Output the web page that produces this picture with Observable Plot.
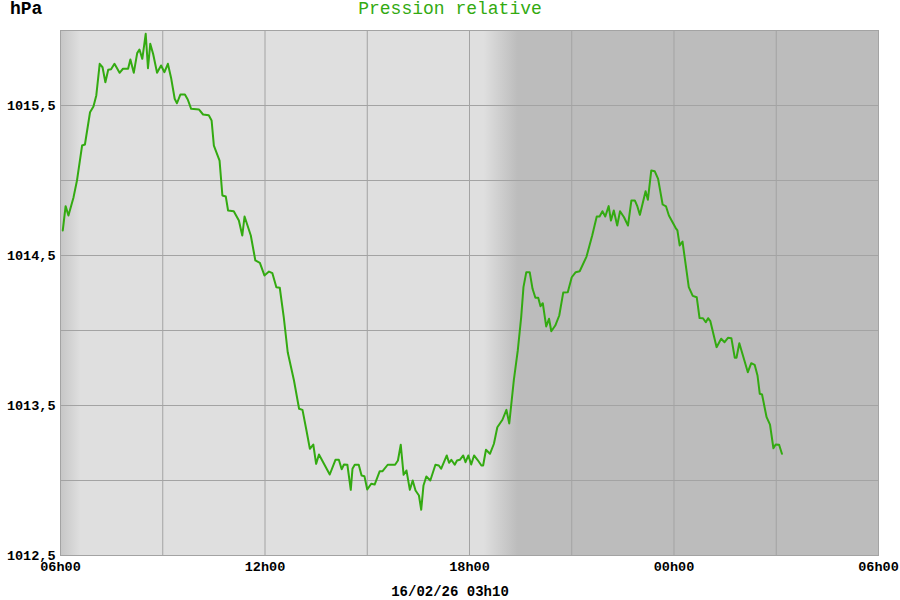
<!DOCTYPE html>
<html>
<head>
<meta charset="utf-8">
<script src="https://cdn.jsdelivr.net/npm/d3@7"></script>
<script src="https://cdn.jsdelivr.net/npm/@observablehq/plot@0.6"></script>
<style>
  body { margin: 0; background: #fff; }
  #wrap { position: relative; width: 900px; height: 600px; overflow: hidden; }
  .txt { position: absolute; font-family: "Liberation Mono", "Courier New", monospace; white-space: nowrap; }
  #unit { left: 10px; top: 0px; font-size: 18px; line-height: 18px; font-weight: bold; color: #000; }
  #title { left: 0; width: 900px; text-align: center; top: 0px; font-size: 18px; line-height: 18px; color: #33aa11; }
  #caption { left: 0; width: 900px; text-align: center; top: 585px; font-size: 14px; line-height: 14px; font-weight: bold; color: #000; }
  #chart { position: absolute; left: 0; top: 0; }
</style>
</head>
<body>
<div id="wrap">
  <div id="chart"></div>
  <div class="txt" id="unit">hPa</div>
  <div class="txt" id="title">Pression relative</div>
  <div class="txt" id="caption">16/02/26 03h10</div>
</div>
<script>
// minutes since 06h00
const minutes = [4, 9, 14, 23, 29, 38, 43, 52, 58, 63, 69, 74, 79, 84, 89, 95, 104, 110, 119, 123, 129, 135, 139, 144, 150, 154, 158, 163, 170, 177, 183, 189, 195, 201, 205, 211, 219, 224, 230, 244, 251, 261, 266, 270, 280, 285, 291, 295, 305, 314, 320, 324, 335, 343, 351, 359, 367, 373, 380, 386, 393, 400, 411, 420, 426, 433, 439, 445, 450, 455, 474, 484, 490, 495, 499, 505, 511, 514, 518, 525, 530, 535, 540, 547, 553, 562, 567, 576, 589, 594, 599, 604, 609, 615, 620, 625, 631, 635, 639, 644, 651, 660, 666, 670, 680, 684, 688, 694, 698, 703, 709, 713, 718, 723, 728, 734, 741, 744, 749, 756, 763, 769, 778, 785, 790, 798, 805, 811, 815, 820, 826, 831, 836, 841, 845, 849, 855, 860, 864, 871, 878, 885, 893, 900, 907, 914, 926, 936, 944, 949, 954, 959, 965, 969, 974, 980, 985, 992, 999, 1005, 1011, 1015, 1020, 1030, 1034, 1040, 1046, 1052, 1060, 1066, 1071, 1083, 1086, 1090, 1095, 1106, 1113, 1120, 1125, 1131, 1136, 1140, 1144, 1155, 1163, 1169, 1175, 1181, 1187, 1190, 1195, 1210, 1216, 1222, 1227, 1231, 1235, 1243, 1249, 1255, 1259, 1265, 1270];

const pressure = [1014.667, 1014.829, 1014.767, 1014.889, 1015.0, 1015.233, 1015.24, 1015.455, 1015.493, 1015.567, 1015.778, 1015.755, 1015.655, 1015.738, 1015.742, 1015.778, 1015.718, 1015.745, 1015.745, 1015.807, 1015.718, 1015.849, 1015.873, 1015.811, 1015.978, 1015.749, 1015.911, 1015.845, 1015.718, 1015.767, 1015.722, 1015.778, 1015.678, 1015.545, 1015.515, 1015.573, 1015.573, 1015.54, 1015.478, 1015.473, 1015.44, 1015.435, 1015.4, 1015.233, 1015.133, 1014.9, 1014.893, 1014.8, 1014.795, 1014.733, 1014.633, 1014.76, 1014.633, 1014.467, 1014.451, 1014.367, 1014.393, 1014.382, 1014.289, 1014.285, 1014.089, 1013.855, 1013.667, 1013.478, 1013.471, 1013.333, 1013.211, 1013.24, 1013.111, 1013.173, 1013.04, 1013.138, 1013.138, 1013.075, 1013.107, 1013.105, 1012.938, 1013.078, 1013.105, 1013.105, 1013.033, 1013.029, 1012.94, 1012.978, 1012.973, 1013.062, 1013.062, 1013.105, 1013.105, 1013.133, 1013.238, 1013.038, 1013.067, 1012.938, 1013.0, 1012.933, 1012.9, 1012.805, 1012.967, 1013.027, 1013.0, 1013.105, 1013.1, 1013.078, 1013.167, 1013.118, 1013.138, 1013.105, 1013.133, 1013.138, 1013.167, 1013.122, 1013.167, 1013.107, 1013.167, 1013.138, 1013.1, 1013.1, 1013.205, 1013.178, 1013.245, 1013.355, 1013.405, 1013.471, 1013.38, 1013.667, 1013.867, 1014.089, 1014.289, 1014.389, 1014.389, 1014.278, 1014.218, 1014.218, 1014.162, 1014.182, 1014.027, 1014.078, 1013.995, 1014.033, 1014.1, 1014.253, 1014.255, 1014.355, 1014.389, 1014.395, 1014.493, 1014.633, 1014.76, 1014.76, 1014.795, 1014.76, 1014.829, 1014.733, 1014.8, 1014.7, 1014.795, 1014.755, 1014.7, 1014.867, 1014.867, 1014.833, 1014.771, 1014.929, 1014.871, 1015.067, 1015.062, 1015.011, 1014.84, 1014.827, 1014.767, 1014.683, 1014.667, 1014.567, 1014.593, 1014.289, 1014.231, 1014.222, 1014.083, 1014.082, 1014.055, 1014.082, 1014.062, 1013.889, 1013.945, 1013.922, 1013.951, 1013.949, 1013.818, 1013.818, 1013.915, 1013.722, 1013.782, 1013.771, 1013.7, 1013.578, 1013.573, 1013.422, 1013.373, 1013.215, 1013.24, 1013.238, 1013.178];

const xTicks = [0, 360, 720, 1080, 1440];
const xTickLabels = ["06h00", "12h00", "18h00", "00h00", "06h00"];
const xGrid = [180, 360, 540, 720, 900, 1080, 1260];
const yTicks = [1012.5, 1013.5, 1014.5, 1015.5];
const yGrid = [1013, 1013.5, 1014, 1014.5, 1015, 1015.5];
// day/night shading (minutes since 06h00 and shades)
const shadeMinutes = [0, 35, 745, 805, 1440];
const shadeColors = ["#c6c6c6", "#dfdfdf", "#dfdfdf", "#bcbcbc", "#bcbcbc"];

const n = Math.min(minutes.length, pressure.length);
const data = d3.range(n).map(i => ({t: minutes[i], p: pressure[i]}));

const font = "'Liberation Mono', 'Courier New', monospace";

const chart = Plot.plot({
  width: 900,
  height: 600,
  marginTop: 30,
  marginRight: 22,
  marginBottom: 45,
  marginLeft: 60,
  style: {fontFamily: font, fontSize: "13.5px", fontWeight: "bold", color: "#000", background: "transparent", overflow: "visible"},
  x: {domain: [0, 1440], label: null},
  y: {domain: [1012.5, 1016], label: null},
  marks: [
    Plot.frame({fill: "url(#bgshade)", stroke: null}),
    Plot.gridX(xGrid, {stroke: "#a3a3a3", strokeOpacity: 1, strokeWidth: 1}),
    Plot.gridY(yGrid, {stroke: "#a3a3a3", strokeOpacity: 1, strokeWidth: 1}),
    Plot.frame({stroke: "#a3a3a3", strokeWidth: 1}),
    Plot.axisY(yTicks, {tickSize: 0, tickPadding: 5, tickFormat: d => d.toFixed(1).replace(".", ","), fill: "#000"}),
    Plot.axisX(xTicks, {tickSize: 0, tickPadding: 6, tickFormat: d => xTickLabels[xTicks.indexOf(d)], fill: "#000"}),
    Plot.line(data, {x: "t", y: "p", stroke: "#33aa11", strokeWidth: 2, strokeLinejoin: "round"})
  ]
});

// gradient definition for the day/night background
const svg = d3.select(chart);
const defs = svg.insert("defs", ":first-child");
const grad = defs.append("linearGradient").attr("id", "bgshade")
  .attr("x1", "0").attr("x2", "1").attr("y1", "0").attr("y2", "0");
shadeMinutes.forEach((m, i) => {
  grad.append("stop").attr("offset", m / 1440).attr("stop-color", shadeColors[i]);
});

document.getElementById("chart").appendChild(chart);
</script>
</body>
</html>
